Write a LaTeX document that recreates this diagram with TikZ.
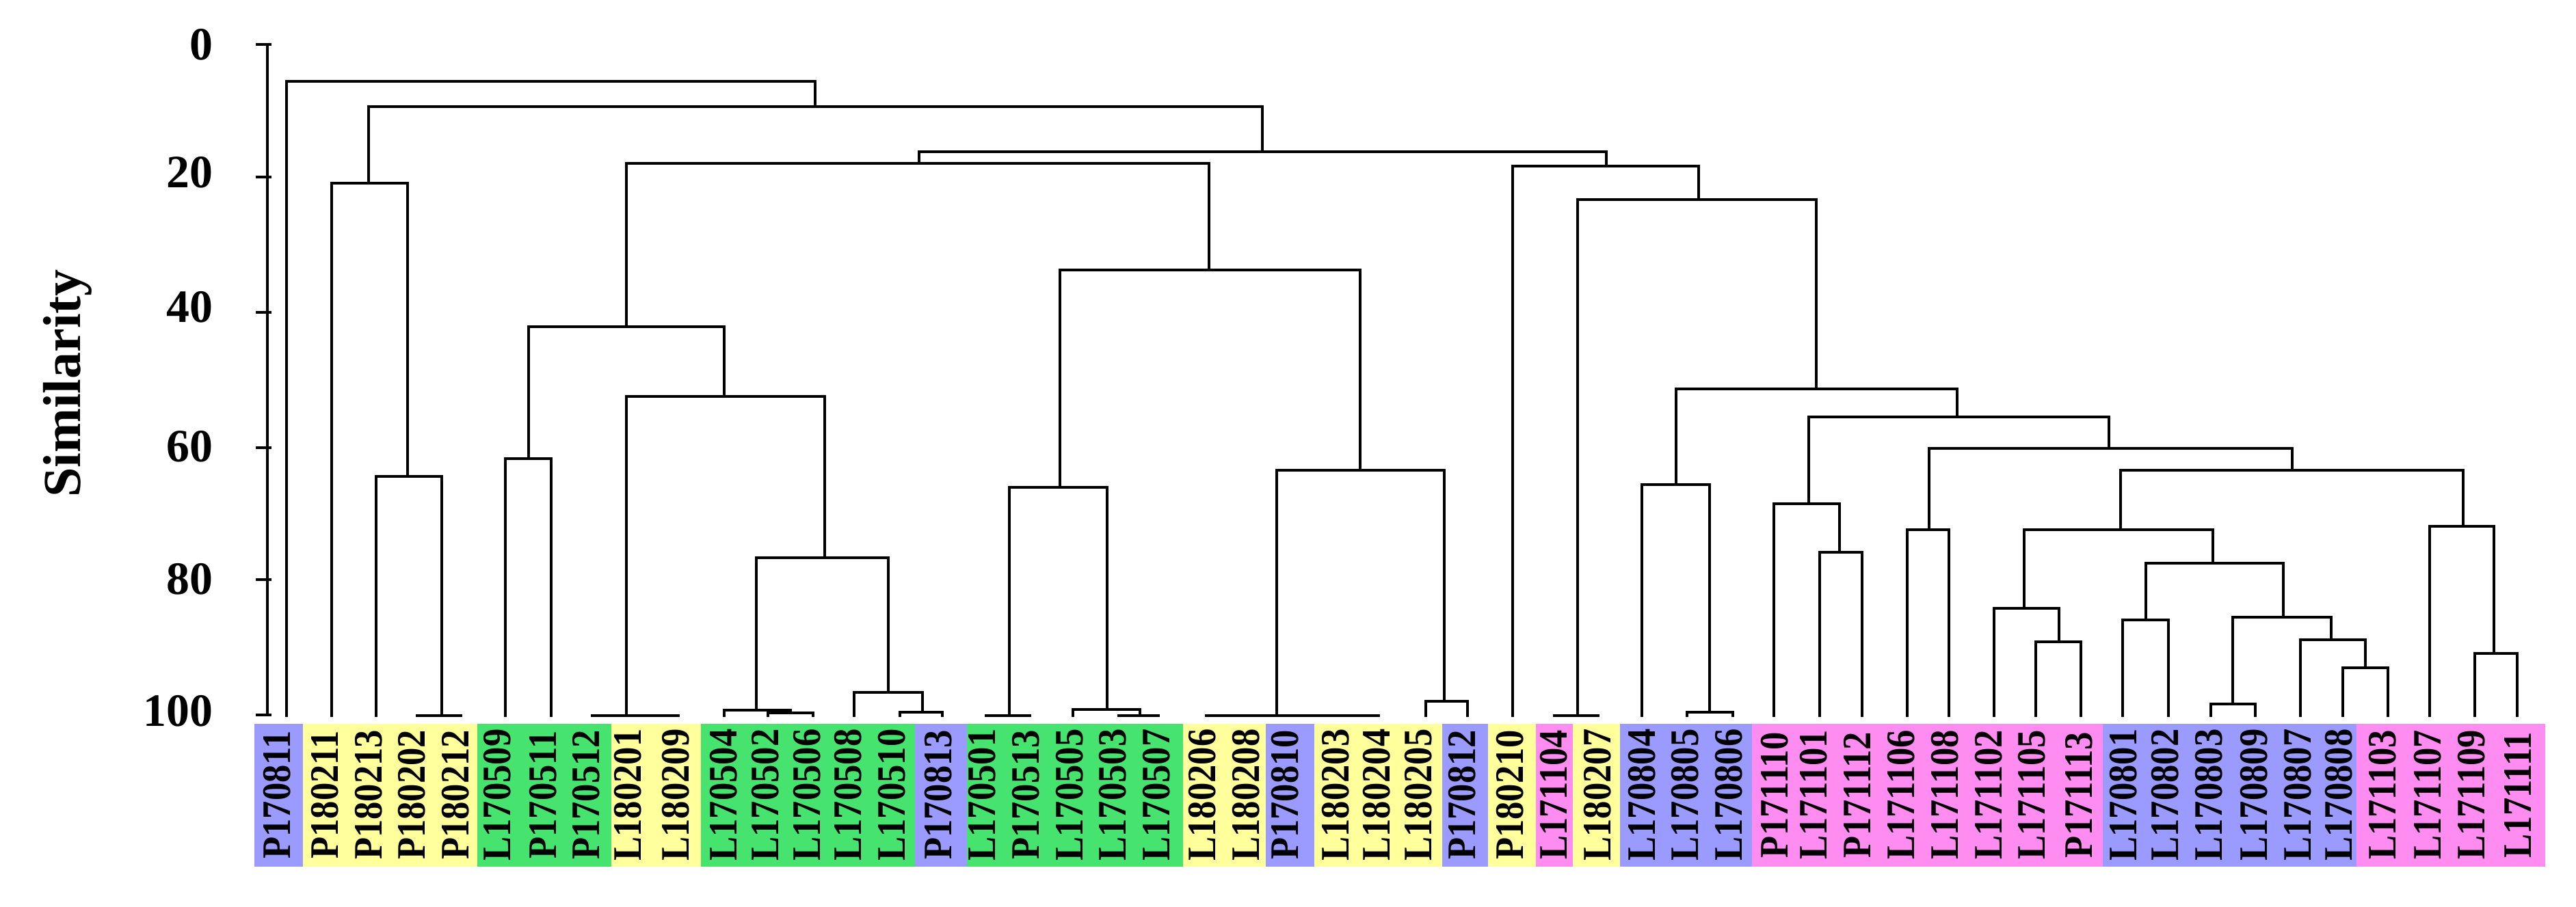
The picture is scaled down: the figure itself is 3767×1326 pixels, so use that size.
\documentclass[tikz,border=0pt]{standalone}
\usepackage{fontspec}
\setmainfont{Liberation Serif}
\definecolor{cb}{HTML}{9B9BFF}
\definecolor{cy}{HTML}{FFFF9B}
\definecolor{cg}{HTML}{46E36E}
\definecolor{cp}{HTML}{FF8CF0}
\begin{document}
\begin{tikzpicture}[x=0.01cm,y=-0.01cm,
  tree/.style={line width=1.1pt,line cap=rect},
  axisline/.style={line width=1.3pt},
  lab/.style={rotate=90,inner sep=0pt,font=\fontsize{16.8}{17}\selectfont\bfseries},
  ticklab/.style={anchor=east,inner sep=0pt,font=\fontsize{19.3}{20}\selectfont\bfseries},
  ytitle/.style={rotate=90,anchor=base,inner sep=0pt,font=\fontsize{22.2}{24}\selectfont\bfseries}]
\useasboundingbox (0,0) rectangle (3767,1326);
% colour strips
\foreach \a/\b/\c in {372/443/cb,443/698/cy,698/894/cg,894/1025/cy,1025/1338/cg,1338/1414/cb,
  1414/1730/cg,1730/1851/cy,1851/1922/cb,1922/2109/cy,2109/2176/cb,2176/2246/cy,2246/2300/cp,
  2300/2369/cy,2369/2562/cb,2562/3075/cp,3075/3446/cb,3446/3722/cp}
  \fill[\c] (\a,1059) rectangle (\b,1268);
% leaf labels
\foreach \x/\t [count=\i] in {405/P170811,475/P180211,539/P180213,602/P180202,666/P180212,
  727/L170509,794/P170511,857/P170512,918/L180201,988/L180209,1058/L170504,1119/L170502,
  1180/L170506,1240/L170508,1304/L170510,1372/P170813,1436/L170501,1500/P170513,1564/L170505,
  1627/L170503,1691/L170507,1758/L180206,1822/L180208,1879/P170810,1953/L180203,2013/L180204,
  2074/L180205,2138/P170812,2208/P180210,2272/L171104,2336/L180207,2401/L170804,2464/L170805,
  2528/L170806,2595/P171110,2652/L171101,2716/P171112,2780/L171106,2844/L171108,2908/L171102,
  2971/L171105,3040/P171113,3105/L170801,3166/L170802,3230/L170803,3296/L170809,3360/L170807,
  3420/L170808,3484/L171103,3550/L171107,3614/L171109,3682/L171111}
  \node[lab] (l\i) at (\x,1163) {\scalebox{0.89}[1]{\t}};
% axis
\draw[axisline] (391,65) -- (391,1046);
\foreach \y/\ly/\t [count=\i] in {65/65/0,259/252/20,457/449/40,655/653/60,848/847/80,1046/1040/100}{
  \draw[axisline] (374,\y) -- (397,\y);
  \node[ticklab] (t\i) at (312,\ly) {\t};
}
\node[ytitle] (ytitle) at (117,561) {Similarity};
% dendrogram merges: height / left x / left y / right x / right y
\foreach \h/\xa/\ya/\xb/\yb in {
  119/419/1047/1192/156, 156/539/268/1846/222, 268/485/1047/596/697, 697/550/1047/646/1047,
  222/1344/239/2349/243, 239/916/478/1768/395, 478/773/671/1059/580, 671/739/1047/806/1047,
  580/916/1047/1206/816, 816/1106/1039/1299/1013, 1039/1059/1047/1156/1043, 1043/1123/1047/1189/1047,
  1013/1249/1047/1349/1042, 1042/1316/1047/1378/1047, 395/1550/713/1989/688, 713/1476/1047/1619/1038,
  1038/1569/1047/1667/1047, 688/1867/1047/2112/1026, 1026/2085/1047/2146/1047, 243/2212/1047/2484/292,
  292/2307/1047/2656/569, 569/2451/709/2862/610, 709/2401/1047/2500/1042, 1042/2467/1047/2534/1047,
  610/2645/737/3084/656, 737/2594/1047/2690/808, 808/2661/1047/2723/1047, 656/2821/775/3352/688,
  775/2789/1047/2850/1047, 688/3101/775/3602/770, 775/2960/890/3236/824, 890/2916/1047/3011/939,
  939/2977/1047/3043/1047, 824/3138/907/3339/903, 907/3104/1047/3171/1047, 903/3265/1030/3409/936,
  1030/3233/1047/3298/1047, 936/3364/1047/3459/977, 977/3426/1047/3492/1047, 770/3553/1047/3647/956,
  956/3619/1047/3681/1047}
  \draw[tree] (\xa,\ya) |- (\xb,\h) -- (\xb,\yb);
% bars of leaves joined at full similarity
\foreach \a/\b in {610/674,866/992,1442/1506,1636/1694,1764/2016,2273/2337}
  \draw[tree] (\a,1047) -- (\b,1047);
\end{tikzpicture}
\end{document}
